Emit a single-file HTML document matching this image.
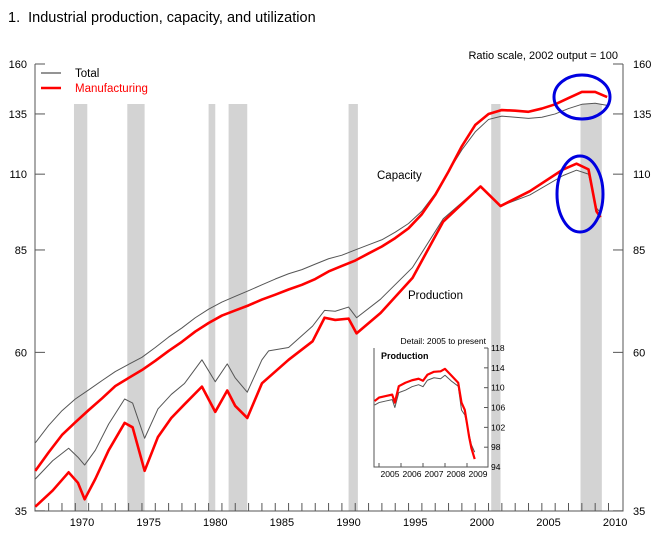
<!DOCTYPE html>
<html><head><meta charset="utf-8"><style>
body{margin:0;background:#fff;font-family:"Liberation Sans",Arial,sans-serif}
svg text{font-family:"Liberation Sans",Arial,sans-serif}
</style></head><body>
<svg id="c" width="663" height="552">
<text x="8" y="22" font-size="14.5" fill="#000">1.&#160; Industrial production, capacity, and utilization</text>
<text x="618" y="59" font-size="11" text-anchor="end">Ratio scale, 2002 output = 100</text>
<g id="rec"></g><g id="axes"></g><g id="series"></g><g id="inset"></g>
<text x="377" y="179" font-size="11.5">Capacity</text>
<text x="408" y="299" font-size="11.5">Production</text>
<line x1="41" y1="73" x2="61" y2="73" stroke="#555" stroke-width="1.2"/>
<text x="75" y="77" font-size="11.5">Total</text>
<line x1="41" y1="88" x2="61" y2="88" stroke="#f00" stroke-width="2.5"/>
<text x="75" y="92" font-size="11.5" fill="#f00">Manufacturing</text>
<ellipse cx="582" cy="97" rx="28" ry="22" fill="none" stroke="#0000e0" stroke-width="3"/>
<ellipse cx="580" cy="194" rx="23" ry="38" fill="none" stroke="#0000e0" stroke-width="3"/>
</svg>
<script>
const recessions=[[1969.9,1970.9],[1973.9,1975.2],[1980.0,1980.5],[1981.5,1982.9],[1990.5,1991.2],[2001.2,2001.9],[2007.9,2009.5]];
const yTicks=[35,60,85,110,135,160];
const xTickLabels=[1970,1975,1980,1985,1990,1995,2000,2005,2010];
const capYears=[1967,1968,1969,1970,1971,1972,1973,1974,1975,1976,1977,1978,1979,1980,1981,1982,1983,1984,1985,1986,1987,1988,1989,1990,1991,1992,1993,1994,1995,1996,1997,1998,1999,2000,2001,2002,2003,2004,2005,2006,2007,2008,2009,2009.9];
const capTotal=[44.1,46.8,49.2,51.2,52.8,54.5,56.2,57.6,59,61,63.2,65.2,67.5,69.5,71.2,72.6,74,75.5,77,78.4,79.5,81,82.5,83.5,85,86.5,88,90.3,93,97,103,111,119.5,127,132.5,134,133.5,133,133.5,135,137.5,139.5,140,139];
const capMfg=[40.1,42.7,45.3,47.3,49.3,51.3,53.5,55,56.5,58.3,60.3,62.2,64.4,66.3,68,69.2,70.4,71.8,73,74.3,75.5,77,79,80.5,82,84,86,88.5,91.5,96,102.5,111,121,130,135,136.8,136.5,136,137.5,139.5,142.5,145.5,145.5,143];
const prodYears=[1967,1968.3,1969.5,1970.2,1970.7,1971.5,1972.5,1973.7,1974.3,1975.2,1976.2,1977.2,1978.2,1979.5,1980.5,1981.4,1982.0,1982.9,1984.0,1984.5,1986,1987.8,1988.7,1989.5,1990.5,1991.1,1992.9,1995.3,1997.6,2000.4,2001.9,2004.1,2006.6,2007.6,2008.5,2009.1,2009.4];
const prodTotal=[39,41.5,43.3,42,40.9,43,47,51.2,50.5,44.8,49.5,52,54,58.5,54.3,57.7,55,52.4,58.5,60.3,61,65.6,69.2,69,70,67.5,71.9,80.1,94.5,105.5,98.7,102.5,109.5,111.5,110,98,96.5];
const prodMfg=[35.5,37.5,39.9,38.5,36.4,39,43,47.2,46.5,40.1,45,48,50.3,53.4,49,52.7,50,48,54,55.1,58.5,62.3,67.5,67,67.3,64,68.6,77.3,93.6,105.5,98.7,103.8,111.8,114,111.8,96.9,95];
const insetYears=[2004.8,2005.0,2005.3,2005.6,2005.72,2005.9,2006.2,2006.5,2006.8,2007.0,2007.2,2007.5,2007.8,2008.0,2008.3,2008.6,2008.75,2008.9,2009.1,2009.2,2009.35];
const insetMfg=[107.3,108,108.3,108.6,107,110.3,111,111.5,111.8,111.4,112.6,113.2,113.3,113.8,112.4,111,107,105.5,100,97.8,95.6];
const insetTotal=[106.5,107,107.3,107.6,106,109,109.5,110.2,110.6,110.2,111.5,112,111.8,112.5,111.3,110.3,105.5,104.5,100.5,98.5,97];
const insetYTicks=[94,98,102,106,110,114,118];
const insetXLabels=[2005,2006,2007,2008,2009];

const NS='http://www.w3.org/2000/svg';
function mk(t,a,p){const e=document.createElementNS(NS,t);for(const k in a)e.setAttribute(k,a[k]);p.appendChild(e);return e;}
const L=35,R=623,T=64,B=511;
const X=y=>75.3+(y-1970)*13.33;
const Y=v=>T+Math.log(160/v)*294;
const rec=document.getElementById('rec'),ax=document.getElementById('axes'),se=document.getElementById('series'),ins=document.getElementById('inset');
recessions.forEach(r=>{const e=mk('rect',{x:X(r[0]),y:104,width:X(r[1])-X(r[0]),height:B-104,fill:'#d3d3d3'},rec);

});
mk('polyline',{points:`${L},${T} ${L},${B} ${R},${B} ${R},${T}`,fill:'none',stroke:'#555','stroke-width':1},ax);
yTicks.forEach(v=>{
 mk('line',{x1:L,x2:L+10,y1:Y(v),y2:Y(v),stroke:'#555'},ax);
 mk('line',{x1:R-10,x2:R,y1:Y(v),y2:Y(v),stroke:'#555'},ax);
 const a=mk('text',{x:L-8,y:Y(v)+4,'font-size':11,'text-anchor':'end'},ax);a.textContent=v;
 
 
 const b=mk('text',{x:R+10,y:Y(v)+4,'font-size':11},ax);b.textContent=v;
 
 
});
for(let y=1968;y<=2010;y++)mk('line',{x1:X(y),x2:X(y),y1:B-8,y2:B,stroke:'#555'},ax);
xTickLabels.forEach(y=>{const t=mk('text',{x:X(y+0.5),y:B+15,'font-size':11,'text-anchor':'middle'},ax);t.textContent=y;
 
 });
function line(xs,vs,fx,fy,col,w,name,p){const e=mk('polyline',{points:xs.map((x,i)=>fx(x)+','+fy(vs[i])).join(' '),fill:'none',stroke:col,'stroke-width':w,'stroke-linejoin':'round'},p);
 
 }
line(capYears,capTotal,X,Y,'#555',1,'capacity-total-line',se);
line(capYears,capMfg,X,Y,'#f00',2.6,'capacity-manufacturing-line',se);
line(prodYears,prodTotal,X,Y,'#555',1,'production-total-line',se);
line(prodYears,prodMfg,X,Y,'#f00',2.6,'production-manufacturing-line',se);
// inset
const IX=t=>379+(t-2005)*22, IY=v=>348+(118-v)*4.96;
const bg=mk('rect',{x:364,y:336,width:124,height:150,fill:'#fff'},ins);


const it=mk('text',{x:486,y:344,'font-size':8.5,'text-anchor':'end'},ins);it.textContent='Detail: 2005 to present';


mk('polyline',{points:`374,348 374,467 488,467 488,348`,fill:'none',stroke:'#555'},ins);
const ip=mk('text',{x:381,y:359,'font-size':9,'font-weight':'bold'},ins);ip.textContent='Production';


insetYTicks.forEach(v=>{mk('line',{x1:484,x2:488,y1:IY(v),y2:IY(v),stroke:'#555'},ins);
 const t=mk('text',{x:491,y:IY(v)+3,'font-size':8.5},ins);t.textContent=v;
 
 });
insetXLabels.forEach(y=>{mk('line',{x1:IX(y),x2:IX(y),y1:463,y2:467,stroke:'#555'},ins);
 const t=mk('text',{x:IX(y+0.5),y:477,'font-size':8.5,'text-anchor':'middle'},ins);t.textContent=y;
 
 });
line(insetYears,insetTotal,IX,IY,'#555',1,'inset-total-line',ins);
line(insetYears,insetMfg,IX,IY,'#f00',2.2,'inset-manufacturing-line',ins);
</script>
</body></html>
